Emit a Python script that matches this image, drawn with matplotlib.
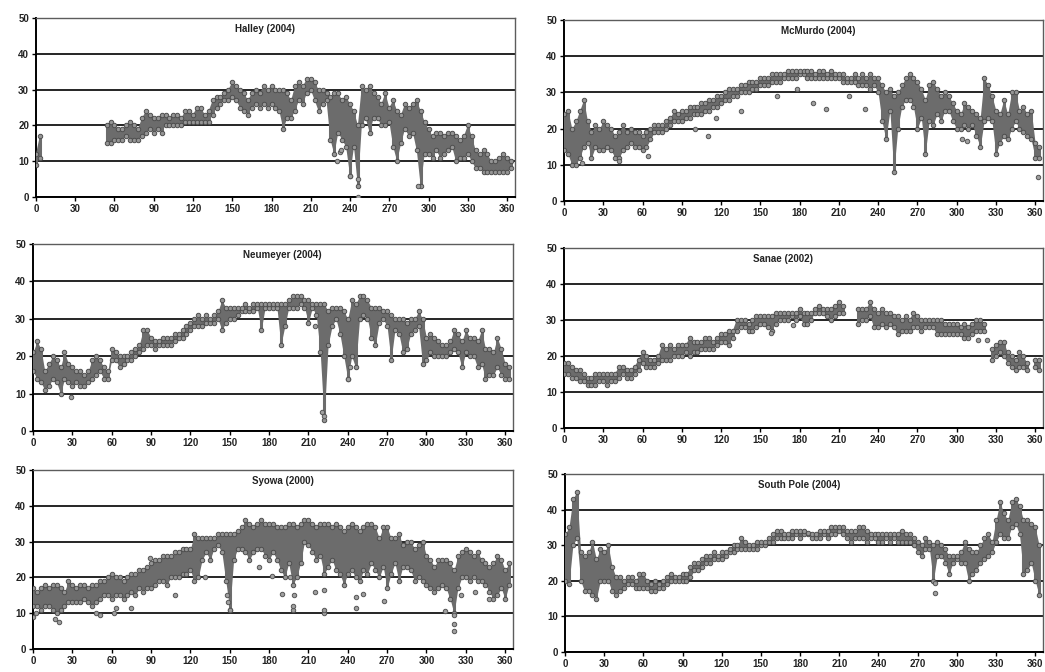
import numpy as np
import matplotlib
matplotlib.use("Agg")
import matplotlib.pyplot as plt

nan = np.nan

# day of year, sampled every 3 days
days = np.arange(0, 366, 3)

stations = ["Halley (2004)", "McMurdo (2004)", "Neumeyer (2004)",
            "Sanae (2002)", "Syowa (2000)", "South Pole (2004)"]

# lower / upper envelope of the scatter for each 3-day bin
halley_lo = [9, 11, nan, nan, nan, nan, nan, nan, nan, nan,
             nan, nan, nan, nan, nan, nan, nan, nan, 15, 15,
             16, 16, 16, 17, 16, 16, 16, 17, 18, 19,
             18, 19, 18, 20, 20, 20, 20, 20, 21, 21,
             21, 21, 21, 21, 21, 23, 25, 26, 27, 27,
             28, 27, 25, 24, 23, 25, 26, 25, 26, 25,
             26, 25, 24, 19, 22, 22, 24, 27, 26, 29,
             30, 27, 24, 26, 27, 16, 12, 18, 16, 14,
             6, 14, 3, 20, 22, 18, 22, 22, 20, 20,
             21, 14, 10, 15, 19, 17, 18, 13, 3, 12,
             12, 11, 13, 11, 12, 13, 14, 10, 11, 11,
             12, 10, 8, 8, 7, 7, 7, 7, 7, 7,
             7, 8]
halley_hi = [12, 17, nan, nan, nan, nan, nan, nan, nan, nan,
             nan, nan, nan, nan, nan, nan, nan, nan, 20, 21,
             20, 19, 19, 20, 21, 20, 19, 22, 24, 23,
             22, 22, 23, 23, 22, 23, 23, 22, 24, 24,
             23, 25, 25, 23, 24, 27, 28, 28, 29, 30,
             32, 31, 30, 29, 27, 29, 30, 29, 31, 30,
             31, 30, 30, 30, 29, 27, 31, 32, 31, 33,
             33, 32, 30, 30, 29, 28, 29, 29, 27, 28,
             26, 24, 20, 31, 30, 31, 29, 28, 26, 29,
             25, 27, 24, 23, 26, 25, 26, 27, 24, 21,
             19, 17, 18, 18, 17, 18, 18, 17, 16, 17,
             20, 17, 13, 12, 13, 12, 10, 10, 11, 12,
             11, 10]

mcmurdo_lo = [14, 13, 10, 10, 12, 15, 16, 12, 15, 14,
              14, 15, 14, 12, 12, 14, 15, 16, 15, 15,
              14, 15, 17, 19, 19, 19, 20, 21, 22, 22,
              22, 23, 23, 24, 24, 24, 25, 25, 26, 26,
              27, 28, 28, 29, 29, 30, 30, 30, 31, 31,
              32, 32, 32, 33, 33, 33, 34, 34, 34, 34,
              35, 35, 34, 34, 34, 34, 34, 34, 34, 34,
              34, 33, 33, 33, 33, 32, 32, 32, 31, 32,
              30, 22, 17, 25, 8, 20, 26, 28, 28, 26,
              20, 23, 13, 22, 21, 24, 22, 25, 25, 22,
              20, 20, 21, 20, 21, 18, 15, 22, 23, 22,
              13, 16, 18, 17, 20, 22, 20, 19, 18, 17,
              12, 12]
mcmurdo_hi = [24, 25, 20, 22, 25, 28, 22, 19, 21, 20,
              22, 21, 20, 18, 19, 21, 19, 20, 19, 19,
              18, 19, 20, 21, 21, 21, 22, 23, 25, 24,
              25, 25, 26, 26, 26, 27, 27, 28, 28, 29,
              29, 30, 31, 31, 31, 32, 32, 33, 33, 33,
              34, 34, 34, 35, 35, 35, 35, 36, 36, 36,
              36, 36, 36, 36, 35, 36, 36, 35, 36, 35,
              35, 35, 34, 34, 35, 34, 35, 34, 35, 34,
              34, 32, 30, 31, 29, 30, 32, 34, 35, 34,
              33, 31, 28, 32, 33, 31, 29, 30, 29, 27,
              25, 24, 27, 26, 25, 24, 23, 34, 32, 29,
              25, 24, 28, 24, 30, 30, 25, 26, 24, 25,
              16, 15]

neumeyer_lo = [16, 14, 13, 11, 12, 14, 13, 10, 14, 13,
               12, 13, 12, 12, 13, 14, 15, 16, 14, 14,
               19, 19, 17, 18, 19, 19, 20, 21, 22, 23,
               23, 22, 23, 23, 23, 23, 24, 25, 25, 26,
               27, 28, 28, 28, 29, 29, 29, 30, 27, 29,
               30, 30, 31, 32, 32, 32, 32, 33, 27, 33,
               33, 33, 33, 23, 28, 33, 33, 33, 34, 33,
               29, 33, 31, 21, 3, 23, 28, 30, 26, 20,
               14, 20, 17, 30, 31, 30, 25, 23, 29, 30,
               28, 19, 27, 26, 21, 22, 26, 27, 28, 18,
               19, 21, 20, 20, 20, 20, 21, 22, 21, 17,
               21, 20, 20, 17, 18, 14, 15, 15, 17, 15,
               14, 14]
neumeyer_hi = [21, 24, 22, 16, 18, 20, 19, 17, 21, 18,
               17, 16, 16, 15, 16, 19, 20, 19, 17, 16,
               22, 21, 20, 20, 20, 21, 22, 23, 27, 27,
               25, 24, 24, 25, 25, 25, 26, 26, 27, 28,
               29, 30, 31, 30, 31, 30, 31, 32, 35, 33,
               33, 33, 33, 33, 34, 33, 34, 34, 34, 34,
               34, 34, 34, 34, 34, 35, 36, 36, 36, 35,
               35, 34, 34, 34, 34, 32, 33, 33, 33, 32,
               30, 35, 34, 36, 36, 35, 33, 33, 33, 32,
               32, 31, 30, 30, 30, 29, 30, 30, 32, 30,
               25, 26, 25, 24, 23, 23, 24, 27, 26, 24,
               27, 25, 25, 24, 27, 22, 22, 21, 25, 22,
               18, 17]

sanae_lo = [15, 15, 14, 14, 13, 13, 12, 12, 12, 13,
            13, 12, 13, 13, 14, 15, 14, 14, 15, 16,
            18, 17, 17, 17, 18, 19, 19, 19, 20, 20,
            20, 21, 20, 21, 21, 22, 22, 22, 22, 23,
            24, 24, 23, 25, 27, 28, 28, 27, 27, 28,
            29, 29, 28, 27, 29, 30, 30, 30, 31, 30,
            31, 29, 29, 30, 32, 32, 32, 31, 30, 31,
            32, 32, nan, nan, nan, 29, 30, 30, 31, 28,
            28, 29, 28, 29, 28, 26, 27, 27, 27, 28,
            28, 27, 28, 28, 28, 26, 26, 26, 26, 26,
            26, 26, 25, 25, 26, 27, 27, 27, nan, 19,
            20, 21, 20, 18, 17, 16, 17, 17, 16, nan,
            17, 16]
sanae_hi = [18, 18, 17, 16, 16, 15, 14, 14, 15, 15,
            15, 15, 15, 15, 17, 17, 16, 16, 17, 19,
            21, 20, 19, 19, 20, 23, 22, 23, 22, 23,
            23, 23, 25, 24, 24, 24, 25, 25, 24, 25,
            26, 26, 27, 27, 30, 30, 30, 29, 30, 31,
            31, 31, 31, 31, 32, 32, 32, 32, 32, 32,
            33, 32, 32, 32, 33, 34, 33, 33, 33, 34,
            35, 34, nan, nan, nan, 33, 33, 33, 35, 33,
            32, 33, 32, 32, 31, 31, 30, 31, 30, 32,
            31, 30, 30, 30, 30, 30, 30, 29, 29, 29,
            29, 28, 29, 28, 29, 30, 30, 29, nan, 22,
            23, 24, 24, 21, 20, 19, 21, 20, 18, nan,
            19, 19]

syowa_lo = [12, 12, 11, 12, 12, 11, 10, 11, 12, 13,
            13, 13, 13, 14, 13, 12, 13, 14, 15, 15,
            14, 15, 15, 14, 15, 16, 15, 17, 16, 17,
            17, 18, 19, 19, 18, 20, 20, 20, 21, 21,
            22, 19, 20, 25, 27, 25, 28, 29, 27, 19,
            11, 25, 28, 28, 27, 25, 27, 28, 28, 26,
            25, 27, 25, 22, 20, 24, 18, 20, 24, 30,
            29, 27, 25, 26, 21, 23, 25, 22, 21, 18,
            21, 22, 20, 19, 22, 21, 24, 22, 20, 23,
            17, 21, 24, 19, 23, 23, 22, 19, 20, 19,
            18, 17, 16, 17, 18, 17, 14, 10, 17, 20,
            20, 19, 20, 19, 19, 18, 16, 14, 15, 17,
            14, 18]
syowa_hi = [17, 16, 17, 18, 17, 18, 18, 17, 16, 19,
            18, 17, 18, 18, 17, 18, 18, 19, 19, 20,
            21, 20, 20, 19, 20, 21, 21, 22, 22, 23,
            24, 25, 25, 26, 26, 26, 27, 27, 28, 28,
            28, 32, 31, 31, 31, 31, 31, 32, 32, 32,
            32, 32, 33, 34, 36, 35, 34, 35, 36, 35,
            35, 35, 34, 34, 34, 35, 35, 34, 35, 36,
            36, 35, 34, 35, 35, 35, 34, 35, 34, 33,
            34, 35, 34, 33, 34, 35, 35, 34, 31, 34,
            34, 31, 31, 32, 29, 30, 30, 28, 29, 30,
            26, 25, 23, 25, 25, 25, 24, 22, 26, 27,
            28, 27, 26, 27, 25, 24, 23, 24, 26, 25,
            22, 24]

spole_lo = [20, 19, 30, 32, 20, 17, 17, 16, 15, 20,
            20, 20, 17, 16, 17, 18, 19, 19, 18, 18,
            18, 18, 17, 17, 18, 18, 19, 20, 20, 20,
            20, 20, 21, 23, 23, 24, 25, 25, 26, 26,
            26, 27, 28, 28, 29, 29, 29, 29, 29, 29,
            30, 30, 31, 31, 32, 32, 32, 32, 32, 33,
            32, 33, 33, 32, 32, 32, 33, 32, 33, 33,
            34, 33, 32, 31, 32, 32, 32, 31, 32, 32,
            31, 31, 32, 31, 32, 31, 31, 31, 31, 30,
            28, 27, 29, 29, 20, 27, 27, 25, 22, 25,
            26, 25, 25, 20, 22, 23, 25, 26, 27, 28,
            31, 33, 32, 32, 35, 36, 33, 22, 23, 25,
            20, 16]
spole_hi = [33, 35, 43, 45, 28, 27, 28, 31, 26, 29,
            28, 30, 24, 21, 21, 20, 21, 21, 20, 22,
            22, 20, 19, 20, 19, 20, 21, 22, 21, 21,
            22, 22, 24, 25, 25, 26, 27, 27, 28, 27,
            28, 28, 29, 30, 30, 32, 31, 30, 30, 31,
            31, 31, 32, 33, 34, 34, 33, 33, 34, 34,
            34, 34, 33.5, 33, 33, 34, 34, 34, 35, 35,
            35, 35, 34, 34, 34, 35, 35, 34, 33, 33,
            33, 33, 33, 33, 33, 33, 34, 33, 33, 32,
            31, 30, 32, 31, 30, 31, 30, 29, 27, 27,
            27, 28, 31, 29, 28, 28, 30, 32, 33, 31,
            37, 42, 39, 37, 42, 43, 41, 37, 37, 36,
            35, 30]

# isolated readings away from the main band
halley_out_d = [230, 232, 233, 240, 246, 246, 292]
halley_out_v = [10, 12.5, 13, 6, 0, 5, 3]
mcmurdo_out_d = [14, 42, 64, 100, 110, 116, 135, 163, 178, 190, 200, 218, 230, 304, 308, 362]
mcmurdo_out_v = [10.5, 11, 12.5, 20, 18, 23, 25, 29, 31, 27, 25.5, 29, 25.5, 17, 16.5, 6.5]
neumeyer_out_d = [29, 215, 220, 222, 240, 242]
neumeyer_out_v = [9, 28, 5, 4, 14, 17]
sanae_out_d = [158, 175, 316, 323]
sanae_out_v = [26.5, 28.5, 24.5, 24.5]
syowa_out_d = [0, 2, 17, 20, 48, 51, 62, 63, 75, 89, 108, 131, 148, 149, 150, 172,
               182, 190, 196, 198, 198, 199, 215, 222, 222, 222, 246, 246, 252, 268,
               314, 321, 321, 321, 326, 337, 348]
syowa_out_v = [9, 10, 8.5, 7.5, 10, 9.5, 10, 11.5, 11.5, 25.5, 15, 20, 15, 13, 11, 23,
               20.5, 15.5, 20, 11, 12, 15, 16, 10, 11, 16.5, 11.5, 14.5, 15.5, 13.5,
               10.5, 9.5, 7, 5, 15, 16, 14]
spole_out_d = [283, 283]
spole_out_v = [16.5, 19.5]

lows = [halley_lo, mcmurdo_lo, neumeyer_lo, sanae_lo, syowa_lo, spole_lo]
highs = [halley_hi, mcmurdo_hi, neumeyer_hi, sanae_hi, syowa_hi, spole_hi]
out_days = [halley_out_d, mcmurdo_out_d, neumeyer_out_d, sanae_out_d, syowa_out_d, spole_out_d]
out_vals = [halley_out_v, mcmurdo_out_v, neumeyer_out_v, sanae_out_v, syowa_out_v, spole_out_v]

xticks = list(range(0, 361, 30))
yticks = [0, 10, 20, 30, 40, 50]

# panel rectangles (left, bottom, width, height) and title x position
rects = [(0.0344, 0.7068, 0.4584, 0.2664),
         (0.5397, 0.7009, 0.4584, 0.2693),
         (0.0316, 0.3586, 0.4593, 0.2783),
         (0.5397, 0.3631, 0.4584, 0.2679),
         (0.0316, 0.0342, 0.4593, 0.2664),
         (0.5407, 0.0298, 0.4574, 0.2649)]
title_x = [0.478, 0.53, 0.519, 0.457, 0.52, 0.49]

plt.rcParams['font.family'] = ['Liberation Sans', 'DejaVu Sans']

fig = plt.figure(figsize=(10.45, 6.72), dpi=100)
fig.patch.set_facecolor('white')

for i in range(6):
    ax = fig.add_axes(rects[i])
    lo = np.array(lows[i], dtype=float)
    hi = np.array(highs[i], dtype=float)

    # band between envelopes, then the circles along both edges
    ax.fill_between(days, lo, hi, color='#6c6c6c', lw=0, zorder=3)
    ax.vlines(days, lo, hi, colors='#6c6c6c', lw=2.2, zorder=3)
    for v in (lo, hi):
        ax.plot(days, v, 'o', ms=3.2, mfc='#959595', mec='#4e4e4e',
                mew=0.7, ls='none', zorder=4)
    ax.plot(out_days[i], out_vals[i], 'o', ms=3.2, mfc='#a0a0a0',
            mec='#555555', mew=0.7, ls='none', zorder=4)

    ax.set_xlim(0, 366)
    ax.set_ylim(0, 50)
    ax.set_xticks(xticks)
    ax.set_yticks(yticks)
    ax.tick_params(direction='out', length=3, width=1, labelsize=7, pad=2)
    for lab in ax.get_xticklabels() + ax.get_yticklabels():
        lab.set_fontweight('bold')
        lab.set_color('#222222')

    ax.grid(axis='y', color='black', lw=1.2, zorder=1)
    ax.set_axisbelow(True)
    ax.spines['left'].set_linewidth(1.4)
    ax.spines['bottom'].set_linewidth(1.4)
    ax.spines['top'].set_color('#5c5c5c')
    ax.spines['right'].set_color('#5c5c5c')
    ax.spines['top'].set_linewidth(1.0)
    ax.spines['right'].set_linewidth(1.0)

    ax.text(title_x[i], 0.94, stations[i], transform=ax.transAxes,
            ha='center', va='center', fontsize=7, fontweight='bold',
            color='#222222', zorder=5)

fig.savefig('out.png', dpi=100, facecolor='white')
